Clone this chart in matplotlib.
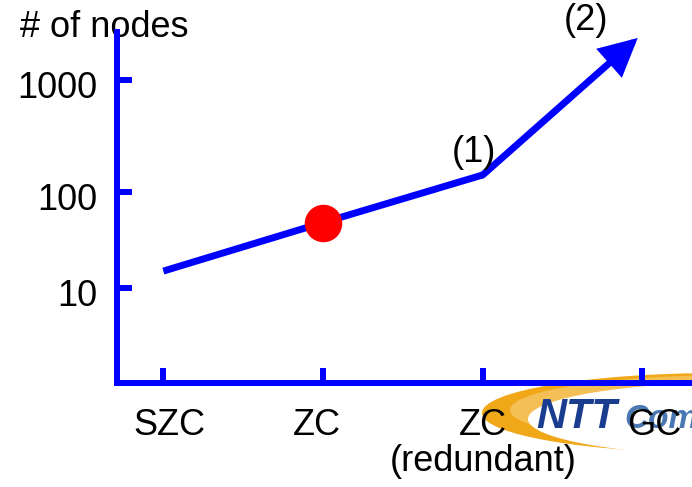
import numpy as np
import matplotlib

matplotlib.use("Agg")
import matplotlib.pyplot as plt
from matplotlib.patches import Ellipse
from matplotlib.ticker import NullLocator
from matplotlib.transforms import ScaledTranslation

# ---- data -------------------------------------------------------------------
categories = ["SZC", "ZC", "ZC\n(redundant)", "GC"]
cat_pos = [0, 1, 2, 3]
nodes = [15, 48, 142]            # SZC, ZC, ZC (redundant)
growth_x = [2, 2.97]             # arrow towards GC
growth_y = [142, 2535]
marker_idx = 1                   # red dot on ZC
y_ticks = [10, 100, 1000]
y_tick_labels = ["10", "100", "1000"]

BLUE = "#0000ff"
plt.rcParams["font.family"] = ["Liberation Sans", "DejaVu Sans"]

# hand-drawn log axis: decades are not exactly equal in the original
_log_knots = [-6, 0, 1, 2, 3, 4, 8]
_px_knots = [-672, -96, 0, 96, 208, 312, 728]


def fwd(v):
    v = np.maximum(np.asarray(v, dtype=float), 1e-6)
    return np.interp(np.log10(v), _log_knots, _px_knots)


def inv(u):
    return 10 ** np.interp(np.asarray(u, dtype=float), _px_knots, _log_knots)


W, H = 692, 487
fig = plt.figure(figsize=(W / 100, H / 100), dpi=100)
fig.patch.set_facecolor("white")

# ---- background layer (logo + y title), pixel coordinates -------------------
bg = fig.add_axes([0, 0, 1, 1], zorder=-1)
bg.set_xlim(0, W)
bg.set_ylim(H, 0)
bg.axis("off")
bg.add_patch(Ellipse((720, 413), 476, 80, color="#f0a818", lw=0))
bg.add_patch(Ellipse((735, 410), 450, 70, color="#f8d58a", lw=0, alpha=0.55))
bg.add_patch(Ellipse((745, 419), 434, 74, color="white", lw=0))
bg.text(536, 428, "NTT", color="#1a3d8f", fontsize=30, fontweight="heavy",
        fontstyle="italic", ha="left", va="baseline")
bg.text(624, 428, "Comm", color="#4a78b4", fontsize=24, fontweight="bold",
        fontstyle="italic", ha="left", va="baseline")
bg.text(20, 37, "# of nodes", fontsize=26, ha="left", va="baseline")

# ---- main axes --------------------------------------------------------------
x0 = (117) / W
ax = fig.add_axes([x0, 1 - 383 / H, 1 - x0, (383 - 32) / H])
ax.patch.set_visible(False)
ax.set_yscale("function", functions=(fwd, inv))

ax.plot(cat_pos[:3], nodes, color=BLUE, lw=5, solid_joinstyle="round",
        solid_capstyle="butt", zorder=3)
ax.annotate("", xy=(growth_x[1], growth_y[1]), xytext=(growth_x[0], growth_y[0]),
            arrowprops=dict(arrowstyle="-|>,head_length=0.65,head_width=0.33",
                            color=BLUE, lw=5, mutation_scale=30,
                            shrinkA=0, shrinkB=0, joinstyle="miter"),
            zorder=3)
ax.plot(cat_pos[marker_idx], nodes[marker_idx], "o", color="red", ms=27,
        mec="none", zorder=4)

ax.annotate("(1)", xy=(cat_pos[2], nodes[2]), xytext=(-6.5, 16),
            textcoords="offset points", ha="center", va="center", fontsize=26)
ax.annotate("(2)", xy=(growth_x[1], growth_y[1]), xytext=(-37, 12.5),
            textcoords="offset points", ha="center", va="center", fontsize=26)

ax.set_xlim(-0.29, 3.31)
ax.set_ylim(inv(-95), inv(256))
ax.set_xticks(cat_pos)
ax.set_xticklabels(categories, fontsize=26, linespacing=1.05)
ax.set_yticks(y_ticks)
ax.set_yticklabels(y_tick_labels, fontsize=26)
ax.yaxis.set_minor_locator(NullLocator())

for side in ("top", "right"):
    ax.spines[side].set_visible(False)
for side in ("left", "bottom"):
    ax.spines[side].set_color(BLUE)
    ax.spines[side].set_linewidth(4.3)
    ax.spines[side].set_capstyle("projecting")
ax.tick_params(axis="both", direction="in", length=11, width=4.3,
               color=BLUE, pad=14)
ax.tick_params(axis="x", pad=18)

# small nudges so the labels sit where the original slide had them
for lab in ax.get_yticklabels():
    lab.set_transform(lab.get_transform() +
                      ScaledTranslation(0, -0.05, fig.dpi_scale_trans))
for lab, dx in zip(ax.get_xticklabels(), [0.06, -0.06, 0.0, 0.12]):
    lab.set_transform(lab.get_transform() +
                      ScaledTranslation(dx, 0, fig.dpi_scale_trans))

fig.savefig("out.png", dpi=100, facecolor="white")
